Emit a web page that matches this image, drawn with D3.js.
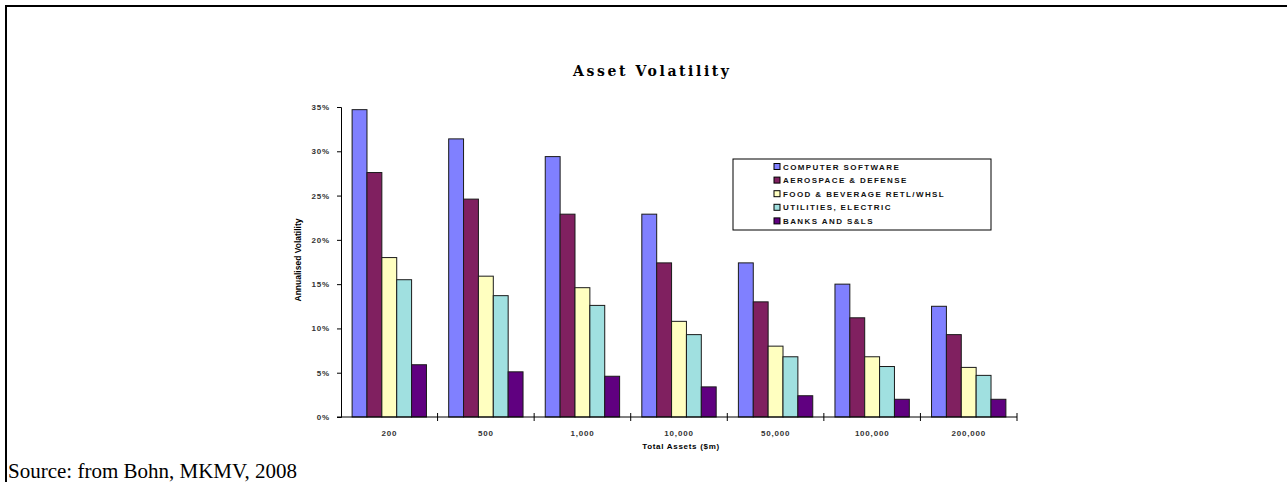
<!DOCTYPE html>
<html>
<head>
<meta charset="utf-8">
<script src="https://cdn.jsdelivr.net/npm/d3@7"></script>
<style>
  html, body { margin: 0; padding: 0; background: #fff; }
  svg { display: block; }
</style>
</head>
<body>
<svg id="chart" width="1287" height="482"></svg>
<script>
const categories = ["200", "500", "1,000", "10,000", "50,000", "100,000", "200,000"];
const seriesNames = ["COMPUTER SOFTWARE", "AEROSPACE & DEFENSE", "FOOD & BEVERAGE RETL/WHSL", "UTILITIES, ELECTRIC", "BANKS AND S&LS"];
const computerSoftware = [0.347, 0.314, 0.294, 0.229, 0.174, 0.150, 0.125];
const aerospaceDefense = [0.276, 0.246, 0.229, 0.174, 0.130, 0.112, 0.093];
const foodBeverage     = [0.180, 0.159, 0.146, 0.108, 0.080, 0.068, 0.056];
const utilitiesElec    = [0.155, 0.137, 0.126, 0.093, 0.068, 0.057, 0.047];
const banksSLs         = [0.059, 0.051, 0.046, 0.034, 0.024, 0.020, 0.020];
const yTicks = [0, 0.05, 0.10, 0.15, 0.20, 0.25, 0.30, 0.35];
const colors = ["#8080FF", "#802060", "#FFFFC0", "#A0E0E0", "#600080"];

const seriesValues = [computerSoftware, aerospaceDefense, foodBeverage, utilitiesElec, banksSLs];
const svg = d3.select("#chart");

// Frame (page border)
svg.append("path")
  .attr("d", "M6,482 L6,6 L1287,6")
  .attr("fill", "none").attr("stroke", "#000").attr("stroke-width", 2);

const x0 = d3.scaleBand().domain(categories).range([341, 1017]).paddingInner(0.23).paddingOuter(0.115);
const x1 = d3.scaleBand().domain(seriesNames).range([0, x0.bandwidth()]);
const y = d3.scaleLinear().domain([0, 0.35]).range([417, 107]);

// Title
svg.append("text")
  .attr("x", 651).attr("y", 76)
  .attr("text-anchor", "middle")
  .attr("font-family", "DejaVu Serif")
  .attr("font-weight", "bold")
  .attr("font-size", 14)
  .attr("textLength", 156).attr("lengthAdjust", "spacing")
  .attr("fill", "#000")
  .text("Asset Volatility");

// Bars
const groups = svg.append("g").selectAll("g")
  .data(categories).join("g")
  .attr("transform", d => `translate(${x0(d)},0)`);

groups.selectAll("rect")
  .data((c, i) => seriesNames.map((s, j) => ({ s, j, v: seriesValues[j][i] })))
  .join("rect")
  .attr("x", d => x1(d.s))
  .attr("y", d => y(d.v))
  .attr("width", x1.bandwidth())
  .attr("height", d => y(0) - y(d.v))
  .attr("fill", d => colors[d.j])
  .attr("stroke", "#1a1a1a")
  .attr("stroke-width", 1);

// Y axis
const yAxis = d3.axisLeft(y).tickValues(yTicks).tickFormat(d3.format(".0%")).tickSize(4).tickPadding(7);
const gy = svg.append("g").attr("transform", "translate(341,0)").call(yAxis);
gy.select(".domain").attr("stroke", "#000");
gy.selectAll(".tick line").attr("stroke", "#000");
gy.selectAll(".tick text")
  .attr("font-family", "Liberation Sans, Arial, sans-serif")
  .attr("font-size", 8)
  .attr("font-weight", "bold")
  .attr("letter-spacing", 0.8)
  .attr("fill", "#333");

// X axis: line with ticks at category boundaries
const step = x0.step();
const boundaries = d3.range(categories.length + 1).map(i => 341 + i * step);
const gx = svg.append("g");
gx.append("line").attr("x1", 337).attr("x2", 1017).attr("y1", 417).attr("y2", 417)
  .attr("stroke", "#000");
gx.selectAll("line.bt").data(boundaries.slice(1)).join("line").attr("class", "bt")
  .attr("x1", d => d).attr("x2", d => d).attr("y1", 413).attr("y2", 421)
  .attr("stroke", "#000");
gx.selectAll("text").data(categories).join("text")
  .attr("x", d => x0(d) + x0.bandwidth() / 2)
  .attr("y", 436)
  .attr("text-anchor", "middle")
  .attr("font-family", "Liberation Sans, Arial, sans-serif")
  .attr("font-size", 8)
  .attr("font-weight", "bold")
  .attr("letter-spacing", 0.8)
  .attr("fill", "#333")
  .text(d => d);

// Axis titles
svg.append("text")
  .attr("x", 681).attr("y", 449)
  .attr("text-anchor", "middle")
  .attr("font-family", "Liberation Sans, Arial, sans-serif")
  .attr("font-size", 8)
  .attr("font-weight", "bold")
  .attr("letter-spacing", 0.7)
  .attr("fill", "#000")
  .text("Total Assets ($m)");

svg.append("text")
  .attr("transform", "translate(301,260) rotate(-90)")
  .attr("text-anchor", "middle")
  .attr("font-family", "Liberation Sans, Arial, sans-serif")
  .attr("font-size", 8.5)
  .attr("font-weight", "bold")
  .attr("fill", "#000")
  .text("Annualised Volatility");

// Legend
const lg = svg.append("g");
lg.append("rect").attr("x", 733).attr("y", 159).attr("width", 258).attr("height", 71)
  .attr("fill", "#fff").attr("stroke", "#000").attr("stroke-width", 1);
const li = lg.selectAll("g.item").data(seriesNames).join("g").attr("class", "item")
  .attr("transform", (d, i) => `translate(774,${166.5 + i * 13.6})`);
li.append("rect").attr("x", 0).attr("y", -3).attr("width", 6).attr("height", 6)
  .attr("fill", (d, i) => colors[i]).attr("stroke", "#000").attr("stroke-width", 1);
li.append("text").attr("x", 9).attr("y", 3)
  .attr("font-family", "Liberation Sans, Arial, sans-serif")
  .attr("font-size", 8)
  .attr("font-weight", "bold")
  .attr("letter-spacing", 1.4)
  .attr("fill", "#111")
  .text(d => d);

// Source
svg.append("text")
  .attr("x", 8).attr("y", 478)
  .attr("font-family", "Liberation Serif, Times New Roman, serif")
  .attr("font-size", 21)
  .attr("fill", "#000")
  .text("Source: from Bohn, MKMV, 2008");
</script>
</body>
</html>
